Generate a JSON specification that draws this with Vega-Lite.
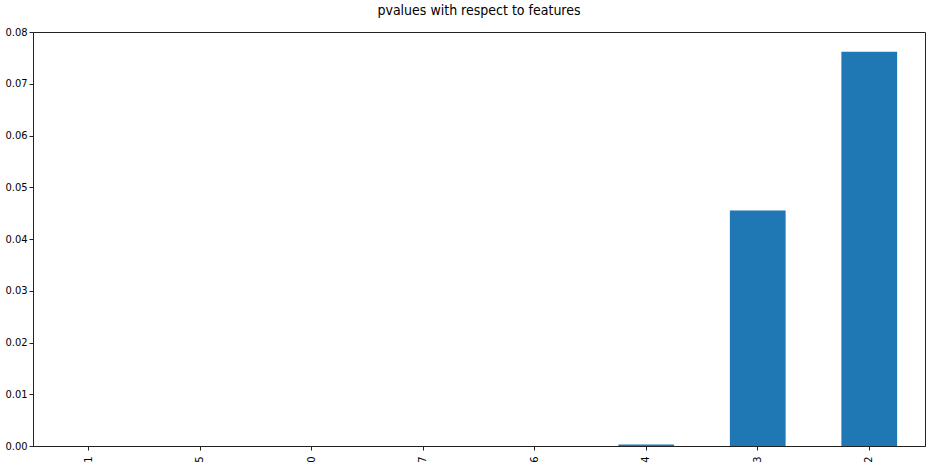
{
  "$schema": "https://vega.github.io/schema/vega-lite/v6.json",
  "width": 892,
  "height": 414,
  "autosize": {"type": "none"},
  "padding": {"left": 33, "top": 32, "right": 2, "bottom": 25},
  "background": "white",
  "title": {
    "text": "pvalues with respect to features",
    "font": "DejaVu Sans Condensed",
    "fontSize": 14,
    "fontWeight": "normal",
    "color": "#000",
    "offset": 8
  },
  "config": {
    "view": {"stroke": "#222", "strokeWidth": 1},
    "axis": {
      "labelFont": "DejaVu Sans Condensed",
      "labelFontSize": 11,
      "labelColor": "#000",
      "domainColor": "#222",
      "tickColor": "#222",
      "tickSize": 4,
      "grid": false,
      "title": null
    }
  },
  "data": {
    "values": [
      {"feature": "1", "pvalue": 0.0},
      {"feature": "5", "pvalue": 0.0},
      {"feature": "0", "pvalue": 0.0},
      {"feature": "7", "pvalue": 0.0},
      {"feature": "6", "pvalue": 0.0},
      {"feature": "4", "pvalue": 0.0003},
      {"feature": "3", "pvalue": 0.0455},
      {"feature": "2", "pvalue": 0.0762}
    ]
  },
  "mark": {"type": "bar", "color": "#1f77b4"},
  "encoding": {
    "x": {
      "field": "feature",
      "type": "nominal",
      "sort": null,
      "scale": {"paddingInner": 0.5, "paddingOuter": 0.25},
      "axis": {"labelAngle": -90, "labelPadding": 6}
    },
    "y": {
      "field": "pvalue",
      "type": "quantitative",
      "scale": {"domain": [0, 0.08], "nice": false},
      "axis": {"format": ".2f", "values": [0, 0.01, 0.02, 0.03, 0.04, 0.05, 0.06, 0.07, 0.08]}
    }
  }
}
